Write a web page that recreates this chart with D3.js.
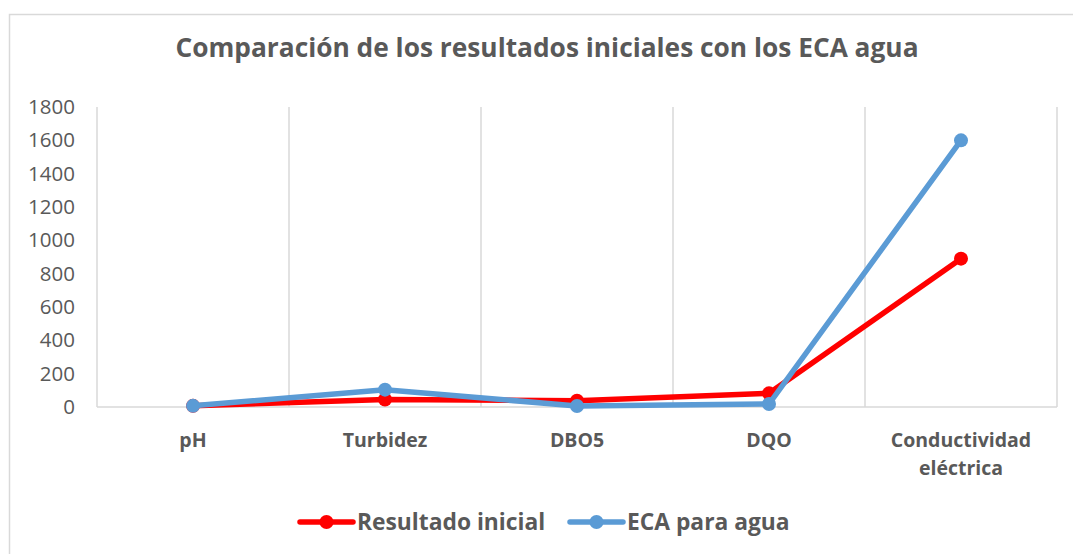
<!DOCTYPE html>
<html>
<head>
<meta charset="utf-8">
<script src="https://cdn.jsdelivr.net/npm/d3@7"></script>
<style>
  html, body { margin: 0; padding: 0; background: #fff; }
  svg { display: block; font-family: "Open Sans", sans-serif; }
</style>
</head>
<body>
<svg id="chart" width="1073" height="554"></svg>
<script>
const categories = ["pH", "Turbidez", "DBO5", "DQO", "Conductividad eléctrica"];
const resultadoInicial = [7, 45, 38, 82, 890];
const ecaAgua = [7, 104, 6, 18, 1600];
const yTicks = [0, 200, 400, 600, 800, 1000, 1200, 1400, 1600, 1800];
const seriesNames = ["Resultado inicial", "ECA para agua"];
const seriesColors = ["#ff0000", "#5b9bd5"];

const svg = d3.select("#chart");
const W = 1073, H = 554;
const plot = { left: 97, right: 1057, top: 107, bottom: 407 };

// outer chart border
svg.append("rect").attr("x", 9.5).attr("y", 14.5).attr("width", W + 20).attr("height", H + 20)
  .attr("fill", "#fff").attr("stroke", "#d9d9d9").attr("stroke-width", 1.5);

const x = d3.scaleBand().domain(categories).range([plot.left, plot.right]).padding(0);
const y = d3.scaleLinear().domain([0, 1800]).range([plot.bottom, plot.top]);

// vertical gridlines at category boundaries
const bounds = categories.map(c => x(c)).concat([x(categories[categories.length - 1]) + x.bandwidth()]);
svg.append("g").selectAll("line").data(bounds).join("line")
  .attr("x1", d => d).attr("x2", d => d)
  .attr("y1", plot.top).attr("y2", plot.bottom)
  .attr("stroke", "#d9d9d9").attr("stroke-width", 1.5);

// baseline axis
svg.append("line").attr("x1", plot.left).attr("x2", plot.right)
  .attr("y1", plot.bottom).attr("y2", plot.bottom)
  .attr("stroke", "#d9d9d9").attr("stroke-width", 1.5);

// y axis labels
const yAxis = d3.axisLeft(y).tickValues(yTicks).tickSize(0).tickPadding(0).tickFormat(d3.format("d"));
const gy = svg.append("g").attr("transform", `translate(${75},0)`).call(yAxis);
gy.select(".domain").remove();
gy.selectAll("text").attr("font-size", 20.5).attr("fill", "#595959")
  .attr("font-family", "'Open Sans', sans-serif");

// x axis labels
const gx = svg.append("g");
categories.forEach(c => {
  const words = c.split(" ");
  const cx = x(c) + x.bandwidth() / 2;
  const t = gx.append("text").attr("x", cx).attr("y", 447)
    .attr("text-anchor", "middle").attr("font-size", 19.5).attr("font-weight", "bold")
    .attr("fill", "#595959");
  words.forEach((w, i) => {
    t.append("tspan").attr("x", cx).attr("dy", i === 0 ? 0 : 28).text(w);
  });
});

// series
const series = [resultadoInicial, ecaAgua];
const line = d3.line().x((d, i) => x(categories[i]) + x.bandwidth() / 2).y(d => y(d));
series.forEach((vals, si) => {
  const g = svg.append("g");
  g.append("path").datum(vals).attr("d", line).attr("fill", "none")
    .attr("stroke", seriesColors[si]).attr("stroke-width", 5.5)
    .attr("stroke-linejoin", "round").attr("stroke-linecap", "round");
  g.selectAll("circle").data(vals).join("circle")
    .attr("cx", (d, i) => x(categories[i]) + x.bandwidth() / 2)
    .attr("cy", d => y(d)).attr("r", 7).attr("fill", seriesColors[si]);
});

// title
svg.append("text").attr("x", 547).attr("y", 57).attr("text-anchor", "middle")
  .attr("font-size", 26.3).attr("font-weight", "bold").attr("fill", "#595959")
  .text("Comparación de los resultados iniciales con los ECA agua");

// legend
const legendX = [300, 570];
seriesNames.forEach((n, i) => {
  const g = svg.append("g").attr("transform", `translate(${legendX[i]},522)`);
  g.append("line").attr("x1", 0).attr("x2", 53).attr("y1", 0).attr("y2", 0)
    .attr("stroke", seriesColors[i]).attr("stroke-width", 5.5).attr("stroke-linecap", "round");
  g.append("circle").attr("cx", 26.5).attr("cy", 0).attr("r", 7).attr("fill", seriesColors[i]);
  g.append("text").attr("x", 57).attr("y", 8).attr("font-size", 22.8).attr("font-weight", "bold")
    .attr("fill", "#595959").text(n);
});
</script>
</body>
</html>
